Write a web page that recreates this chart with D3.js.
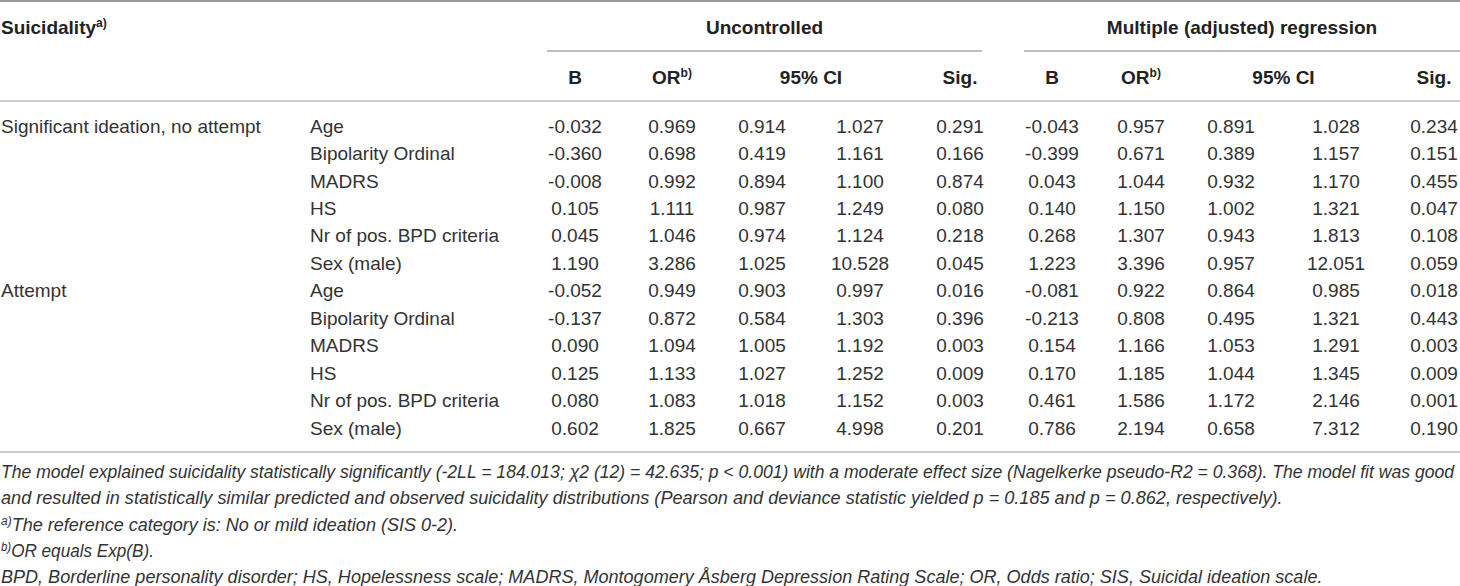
<!DOCTYPE html>
<html>
<head>
<meta charset="utf-8">
<script src="https://cdn.jsdelivr.net/npm/d3@7"></script>
<style>
  body { margin: 0; background: #fff; }
  svg { display: block; }
  text { font-family: "Liberation Sans", Arial, sans-serif; }
</style>
</head>
<body>
<script>
// table content
const groups = ["Significant ideation, no attempt", "Attempt"];
const predictors = ["Age", "Bipolarity Ordinal", "MADRS", "HS", "Nr of pos. BPD criteria", "Sex (male)"];

const uncB   = ["-0.032", "-0.360", "-0.008", "0.105", "0.045", "1.190", "-0.052", "-0.137", "0.090", "0.125", "0.080", "0.602"];
const uncOR  = ["0.969", "0.698", "0.992", "1.111", "1.046", "3.286", "0.949", "0.872", "1.094", "1.133", "1.083", "1.825"];
const uncLo  = ["0.914", "0.419", "0.894", "0.987", "0.974", "1.025", "0.903", "0.584", "1.005", "1.027", "1.018", "0.667"];
const uncHi  = ["1.027", "1.161", "1.100", "1.249", "1.124", "10.528", "0.997", "1.303", "1.192", "1.252", "1.152", "4.998"];
const uncSig = ["0.291", "0.166", "0.874", "0.080", "0.218", "0.045", "0.016", "0.396", "0.003", "0.009", "0.003", "0.201"];

const adjB   = ["-0.043", "-0.399", "0.043", "0.140", "0.268", "1.223", "-0.081", "-0.213", "0.154", "0.170", "0.461", "0.786"];
const adjOR  = ["0.957", "0.671", "1.044", "1.150", "1.307", "3.396", "0.922", "0.808", "1.166", "1.185", "1.586", "2.194"];
const adjLo  = ["0.891", "0.389", "0.932", "1.002", "0.943", "0.957", "0.864", "0.495", "1.053", "1.044", "1.172", "0.658"];
const adjHi  = ["1.028", "1.157", "1.170", "1.321", "1.813", "12.051", "0.985", "1.321", "1.291", "1.345", "2.146", "7.312"];
const adjSig = ["0.234", "0.151", "0.455", "0.047", "0.108", "0.059", "0.018", "0.443", "0.003", "0.009", "0.001", "0.190"];

const colKeys = ["uB", "uOR", "uLo", "uHi", "uSig", "aB", "aOR", "aLo", "aHi", "aSig"];
const colData = [uncB, uncOR, uncLo, uncHi, uncSig, adjB, adjOR, adjLo, adjHi, adjSig];
const subHeads = [
  {text: "B", sup: "", cols: ["uB"]},
  {text: "OR", sup: "b)", cols: ["uOR"]},
  {text: "95% CI", sup: "", cols: ["uLo", "uHi"]},
  {text: "Sig.", sup: "", cols: ["uSig"]},
  {text: "B", sup: "", cols: ["aB"]},
  {text: "OR", sup: "b)", cols: ["aOR"]},
  {text: "95% CI", sup: "", cols: ["aLo", "aHi"]},
  {text: "Sig.", sup: "", cols: ["aSig"]}
];
const spanHeads = ["Uncontrolled", "Multiple (adjusted) regression"];

const notes = [
  [{t: "The model explained suicidality statistically significantly (-2LL = 184.013; χ2 (12) = 42.635; p < 0.001) with a moderate effect size (Nagelkerke pseudo-R2 = 0.368). The model fit was good"}],
  [{t: "and resulted in statistically similar predicted and observed suicidality distributions (Pearson and deviance statistic yielded p = 0.185 and p = 0.862, respectively)."}],
  [{t: "a)", sup: true}, {t: "The reference category is: No or mild ideation (SIS 0-2)."}],
  [{t: "b)", sup: true}, {t: "OR equals Exp(B)."}],
  [{t: "BPD, Borderline personality disorder; HS, Hopelessness scale; MADRS, Montogomery Åsberg Depression Rating Scale; OR, Odds ratio; SIS, Suicidal ideation scale."}]
];
// right edge of each footnote line in the picture
const noteEnds = [1455, 1284, 458, 154, 1323];

const W = 1460, H = 586;
const fs = 19;
const textColor = "#333";

const svg = d3.select("body").append("svg")
  .attr("width", W)
  .attr("height", H);

const colX = d3.scaleOrdinal()
  .domain(colKeys)
  .range([575, 672, 762, 860, 960, 1052, 1141, 1231, 1336, 1434]);

const rowIdx = d3.range(uncB.length);
const y = d3.scalePoint().domain(rowIdx).range([126, 428]);
const noteY = d3.scalePoint().domain(d3.range(notes.length)).range([472, 577]);

const base = c => c + fs * 0.35;

// rules
const rules = [
  {x1: 0, x2: W, y: 1, c: "#777", w: 1.6},
  {x1: 547, x2: 982, y: 51, c: "#aaa", w: 1.4},
  {x1: 1024, x2: W, y: 51, c: "#aaa", w: 1.4},
  {x1: 0, x2: W, y: 101, c: "#bbb", w: 1.4},
  {x1: 0, x2: W, y: 452, c: "#bbb", w: 1.4}
];
svg.selectAll("line.rule").data(rules).enter().append("line")
  .attr("class", "rule")
  .attr("x1", d => d.x1).attr("x2", d => d.x2)
  .attr("y1", d => d.y).attr("y2", d => d.y)
  .style("stroke", d => d.c)
  .style("stroke-width", d => d.w);

// top header
const head = svg.append("g")
  .style("font-weight", "bold")
  .style("font-size", fs + "px")
  .style("fill", "#222");

const suic = head.append("text").attr("x", 1).attr("y", base(27));
suic.append("tspan").text("Suicidality");
suic.append("tspan").text("a)").attr("dy", -7).style("font-size", "12px");

head.selectAll("text.span").data(spanHeads).enter().append("text")
  .attr("class", "span")
  .attr("x", (d, i) => i == 0 ? (547 + 982) / 2 : (1024 + W) / 2)
  .attr("y", base(27))
  .attr("text-anchor", "middle")
  .text(d => d);

const sub = head.selectAll("text.sub").data(subHeads).enter().append("text")
  .attr("class", "sub")
  .attr("x", d => d3.mean(d.cols, c => colX(c)))
  .attr("y", base(77))
  .attr("text-anchor", "middle");
sub.append("tspan").text(d => d.text);
sub.filter(d => d.sup).append("tspan")
  .text(d => d.sup)
  .attr("dy", -7)
  .style("font-size", "12px");

// body
const body = svg.append("g")
  .style("font-size", fs + "px")
  .style("fill", textColor);

body.selectAll("text.group").data(groups).enter().append("text")
  .attr("class", "group")
  .attr("x", 1)
  .attr("y", (d, i) => base(y(i * predictors.length)))
  .text(d => d);

body.selectAll("text.pred").data(rowIdx).enter().append("text")
  .attr("class", "pred")
  .attr("x", 310)
  .attr("y", d => base(y(d)))
  .text(d => predictors[d % predictors.length]);

colKeys.forEach((key, ci) => {
  body.selectAll("text.c" + key).data(colData[ci]).enter().append("text")
    .attr("class", "c" + key)
    .attr("x", colX(key))
    .attr("y", (d, i) => base(y(i)))
    .attr("text-anchor", "middle")
    .text(d => d);
});

// footnotes, each line squeezed to its width in the picture
const foot = svg.append("g")
  .style("font-size", "18px")
  .style("font-style", "italic")
  .style("fill", textColor);

foot.selectAll("g.note").data(notes).enter().append("g")
  .attr("class", "note")
  .each(function (parts, i) {
    const g = d3.select(this);
    const t = g.append("text")
      .attr("x", 0)
      .attr("y", base(noteY(i)) - 0.5);
    parts.forEach(p => {
      const s = t.append("tspan").text(p.t);
      if (p.sup) {
        s.attr("dy", -6).style("font-size", "12px");
      } else if (parts.length > 1) {
        s.attr("dy", 6);
      }
    });
    const k = (noteEnds[i] - 1) / t.node().getComputedTextLength();
    g.attr("transform", "translate(1,0) scale(" + k + ",1)");
  });
</script>
</body>
</html>
